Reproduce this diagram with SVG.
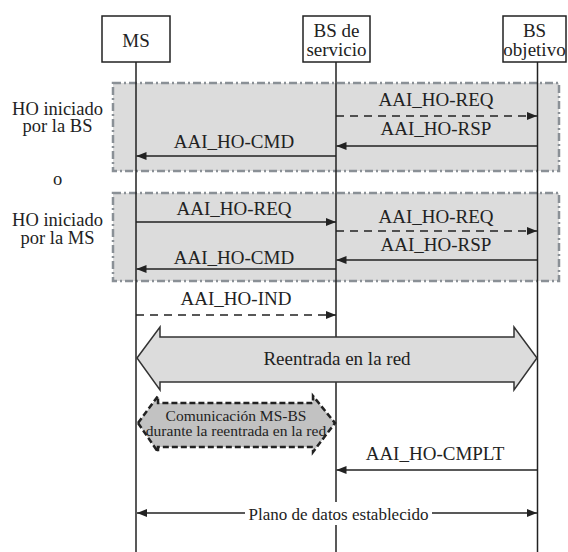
<svg xmlns="http://www.w3.org/2000/svg" width="568" height="552" viewBox="0 0 568 552">
<defs>
<marker id="ah" viewBox="0 0 10 8" refX="10" refY="4" markerWidth="10" markerHeight="8" markerUnits="userSpaceOnUse" orient="auto-start-reverse">
<path d="M0,0 L10,4 L0,8 Z" fill="#222"/>
</marker>
<style>
text{fill:#222;font-family:"Times New Roman","Liberation Serif","DejaVu Serif",serif;}
.t{font-size:19px;text-anchor:middle;}
.l{font-size:18.5px;text-anchor:middle;}
.box{fill:#fff;stroke:#222;stroke-width:1.5;}
.life{stroke:#222;stroke-width:1.5;fill:none;}
.grp{fill:#dcdcdc;stroke:#8a9096;stroke-width:2.5;stroke-dasharray:8 3 2 3;}
.msg{stroke:#222;stroke-width:1.3;fill:none;marker-end:url(#ah);}
.dash{stroke-dasharray:8 6;}
</style>
</defs>
<rect width="568" height="552" fill="#fff"/>
<g id="groups">
<rect id="grp-bs" class="grp" x="113" y="83" width="446" height="88"/>
<rect id="grp-ms" class="grp" x="113" y="193" width="446" height="88"/>
</g>
<g id="labels-left">
<text class="l" x="57.5" y="114.5">HO iniciado</text>
<text class="l" x="57.5" y="131.5">por la BS</text>
<text class="l" x="57.5" y="184.5">o</text>
<text class="l" x="57.5" y="225.5">HO iniciado</text>
<text class="l" x="57.5" y="243.5">por la MS</text>
</g>
<g id="lifelines">
<line class="life" x1="136" y1="62" x2="136" y2="552"/>
<line class="life" x1="336" y1="62" x2="336" y2="552"/>
<line class="life" x1="537.5" y1="62" x2="537.5" y2="552"/>
</g>
<g id="node-ms">
<rect class="box" x="102" y="16" width="68" height="46"/>
<text class="t" x="136" y="46.5">MS</text>
</g>
<g id="node-bs-serv">
<rect class="box" x="303" y="16" width="67" height="46"/>
<text class="t" x="336.5" y="37">BS de</text>
<text class="t" x="336.5" y="56">servicio</text>
</g>
<g id="node-bs-obj">
<rect class="box" x="503" y="16" width="63" height="46"/>
<text class="t" x="534.5" y="37">BS</text>
<text class="t" x="534.5" y="56">objetivo</text>
</g>
<g id="connectors">
<line class="msg dash" x1="336" y1="116" x2="537" y2="116"/>
<line class="msg" x1="537" y1="146" x2="336.5" y2="146"/>
<line class="msg" x1="336" y1="156" x2="136.5" y2="156"/>
<line class="msg" x1="136" y1="222" x2="336" y2="222"/>
<line class="msg dash" x1="336" y1="231" x2="537" y2="231"/>
<line class="msg" x1="537" y1="260" x2="336.5" y2="260"/>
<line class="msg" x1="336" y1="269" x2="136.5" y2="269"/>
<line class="msg dash" x1="136" y1="315" x2="336" y2="315"/>
<line class="msg" x1="537" y1="470" x2="336.5" y2="470"/>
<line x1="137" y1="513" x2="537" y2="513" stroke="#222" stroke-width="1.3" marker-start="url(#ah)" marker-end="url(#ah)"/>
</g>
<g id="msg-labels">
<text class="t" x="436" y="105.7">AAI_HO-REQ</text>
<text class="t" x="436" y="134.6">AAI_HO-RSP</text>
<text class="t" x="234" y="148">AAI_HO-CMD</text>
<text class="t" x="234" y="214.6">AAI_HO-REQ</text>
<text class="t" x="436" y="222.6">AAI_HO-REQ</text>
<text class="t" x="436" y="251.3">AAI_HO-RSP</text>
<text class="t" x="234" y="263.6">AAI_HO-CMD</text>
<text class="t" x="236" y="304.6">AAI_HO-IND</text>
<text class="t" x="435" y="459.6">AAI_HO-CMPLT</text>
</g>
<g id="reentry">
<path d="M137,358 L160,327 L160,337 L514,337 L514,327 L537,358 L514,390 L514,382 L160,382 L160,390 Z" fill="#dcdcdc" stroke="#333" stroke-width="1.5" stroke-linejoin="miter"/>
<text class="t" x="337" y="364.6">Reentrada en la red</text>
</g>
<g id="ms-bs-comm">
<path d="M138,423 L158,396 L158,403 L313,403 L313,396 L335,423 L313,452 L313,447 L158,447 L158,452 Z" fill="#c2c2c2" stroke="#222" stroke-width="2.5" stroke-dasharray="6 3"/>
<text x="236" y="420.5" font-size="15.5" text-anchor="middle">Comunicación MS-BS</text>
<text x="236" y="436" font-size="15.5" text-anchor="middle">durante la reentrada en la red</text>
</g>
<g id="data-plane">
<rect x="245" y="502" width="187" height="23" fill="#fff"/>
<text x="338.5" y="519.5" font-size="17" text-anchor="middle">Plano de datos establecido</text>
</g>
</svg>
